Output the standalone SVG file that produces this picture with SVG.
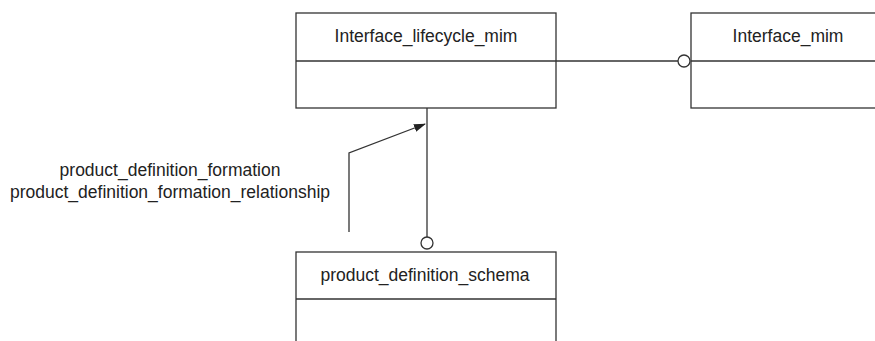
<svg xmlns="http://www.w3.org/2000/svg" width="875" height="341" viewBox="0 0 875 341">
<style>
.box{fill:#fff;stroke:#333;stroke-width:1.3}
.ln{fill:none;stroke:#333;stroke-width:1.3}
.t{font-family:"Liberation Sans",Arial,sans-serif;font-size:17.5px;fill:#222;text-anchor:middle}
</style>
<defs>
<marker id="ah" markerWidth="12" markerHeight="8" refX="11" refY="4" orient="auto" markerUnits="userSpaceOnUse">
<path d="M0,0 L12,4 L0,8 Z" fill="#222"/>
</marker>
</defs>
<rect width="875" height="341" fill="#fff"/>
<g id="connectors">
<line class="ln" x1="556" y1="61" x2="678" y2="61"/>
<circle class="ln" cx="684" cy="61" r="6" fill="#fff"/>
<line class="ln" x1="427" y1="108" x2="427" y2="237"/>
<circle class="ln" cx="427" cy="243" r="6" fill="#fff"/>
<polyline class="ln" points="349,232 349,153 425,124" marker-end="url(#ah)"/>
<text class="t" x="170" y="176">product_definition_formation</text>
<text class="t" x="170" y="198">product_definition_formation_relationship</text>
</g>
<g id="node-interface-lifecycle-mim">
<rect class="box" x="296" y="13" width="260" height="95"/>
<line class="ln" x1="296" y1="61" x2="556" y2="61"/>
<text class="t" x="426" y="42">Interface_lifecycle_mim</text>
</g>
<g id="node-interface-mim">
<rect class="box" x="691" y="13" width="200" height="95"/>
<line class="ln" x1="691" y1="61" x2="875" y2="61"/>
<text class="t" x="788" y="42">Interface_mim</text>
</g>
<g id="node-product-definition-schema">
<rect class="box" x="296" y="252" width="260" height="100"/>
<line class="ln" x1="296" y1="299" x2="556" y2="299"/>
<text class="t" x="425" y="281">product_definition_schema</text>
</g>
</svg>
